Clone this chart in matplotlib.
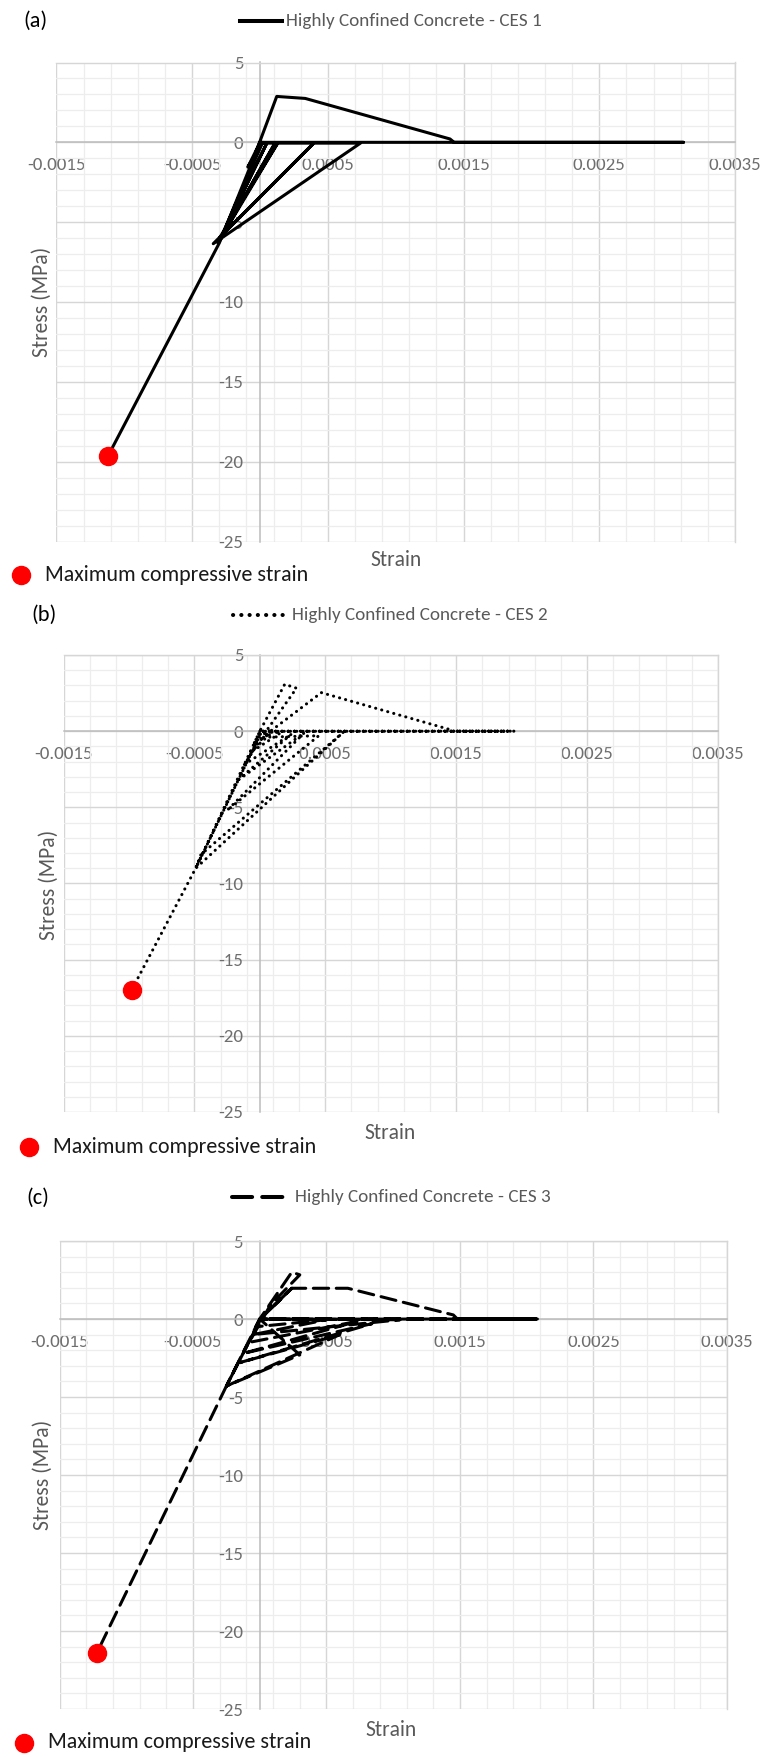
import numpy as np
import matplotlib
matplotlib.use("Agg")
import matplotlib.pyplot as plt
from matplotlib import font_manager
from matplotlib.lines import Line2D
from matplotlib.ticker import FormatStrFormatter

# stress-strain paths of the highly confined concrete fibre, one per section
strain_a = [0.0, -0.00009, 0.00002, -0.00029, 0.00005, -0.0003, 0.00011, -0.00031, 0.00013,
            -0.000295, 0.00039, -0.000345, 0.00074, 0.0, -0.00003, 0.000123, 0.000333,
            0.0014, 0.00143, 0.00312, 0.0, -0.0003, -0.000527, -0.00112]
stress_a = [0.0, -1.55, 0.0, -6.0, -0.05, -6.2, -0.05, -6.3, -0.05,
            -5.94, -0.1, -6.35, -0.05, -0.05, -0.6, 2.875, 2.75,
            0.21, 0.0, 0.0, 0.0, -6.3, -10.0, -19.64]

strain_b = [0.0, -0.00005, 0.0001, -0.00008, 0.00016, 0.0, 0.00019, 0.00028, 0.00004,
            -0.00012, 0.00024, -0.00018, 0.00034, -0.00025, 0.00045, 0.00002, 0.00047,
            0.00145, 0.00148, 0.00195, 0.00001, 0.0019, 0.0, -0.00049, 0.00001, -0.00049,
            0.00064, -0.00045, -0.00049, -0.00098]
stress_b = [0.0, -0.9, -0.02, -1.45, -0.1, 0.0, 3.08, 2.82, -0.1,
            -2.2, -0.2, -3.3, -0.1, -5.2, -0.3, -0.4, 2.53,
            0.11, 0.0, 0.0, -0.01, 0.0, 0.0, -9.0, -0.1, -9.0,
            -0.05, -8.1, -9.0, -17.0]

strain_c = [0.0, -0.00003, 0.0005, -0.00005, 0.00105, 0.0, 0.00024, 0.0003, 0.00008,
            -0.00008, 0.00073, -0.00012, 0.00084, -0.00015, 0.0006, -0.00025, 0.0003,
            0.0, 0.00024, 0.00001, 0.00024, 0.00066, 0.00145, 0.00148, 0.00208, 0.00001,
            0.00207, 0.0, -0.00025, 0.00001, -0.00025, -0.00122]
stress_c = [0.0, -0.5, -0.05, -1.0, -0.05, 0.0, 3.0, 2.83, 0.9,
            -1.5, -0.15, -2.2, -0.3, -2.8, -1.0, -4.3, -2.3,
            0.0, 1.97, 0.05, 1.97, 1.97, 0.26, 0.0, 0.0, -0.01,
            0.0, 0.0, -4.3, 0.05, -4.3, -21.4]

panel_tags = ["(a)", "(b)", "(c)"]
series_names = ["Highly Confined Concrete - CES 1",
                "Highly Confined Concrete - CES 2",
                "Highly Confined Concrete - CES 3"]
marker_name = "Maximum compressive strain"
x_title = "Strain"
y_title = "Stress (MPa)"

x_major = np.arange(-0.0015, 0.0036, 0.001)
x_minor = np.arange(-0.0015, 0.0036, 0.0002)
y_major = np.arange(-25, 6, 5)
y_minor = np.arange(-25, 6, 1)

W, H = 767, 1757

names = {f.name for f in font_manager.fontManager.ttflist}


def pick(*cands):
    for c in cands:
        if c in names:
            return c
    return "DejaVu Sans"


body_font = pick("Carlito", "Lato", "Open Sans")
narrow_font = pick("Liberation Sans Narrow", "Carlito", "Lato")

plt.rcParams["axes.unicode_minus"] = False
plt.rcParams["font.family"] = [body_font, "DejaVu Sans"]

GREY = "#595959"
TICK_GREY = "#6e6e6e"

fig = plt.figure(figsize=(W / 100, H / 100), dpi=100)
fig.patch.set_facecolor("white")


def fx(px):
    return px / W


def fy(py):
    return 1 - py / H


def panel(box, xs, ys, style, tag, name, layout):
    left, right, top, bottom = box
    ax = fig.add_axes([fx(left), fy(bottom), (right - left) / W, (bottom - top) / H])
    ax.set_xlim(-0.0015, 0.0035)
    ax.set_ylim(-25, 5)

    ax.set_xticks(x_major)
    ax.set_xticks(x_minor, minor=True)
    ax.set_yticks(y_major)
    ax.set_yticks(y_minor, minor=True)
    ax.xaxis.set_major_formatter(FormatStrFormatter("%g"))
    ax.yaxis.set_major_formatter(FormatStrFormatter("%g"))
    ax.grid(which="major", color="#d6d6d6", lw=1.0, zorder=0)
    ax.grid(which="minor", color="#ededed", lw=0.9, zorder=0)
    ax.set_axisbelow(True)

    # axes cross at the origin, Excel style
    ax.spines["left"].set_position(("data", 0))
    ax.spines["bottom"].set_position(("data", 0))
    for s in ("left", "bottom"):
        ax.spines[s].set_color("#bcbcbc")
        ax.spines[s].set_linewidth(1.1)
    for s in ("top", "right"):
        ax.spines[s].set_color("#d6d6d6")
        ax.spines[s].set_linewidth(1.0)
    ax.tick_params(which="both", length=0)
    ax.tick_params(axis="x", pad=10.5, labelsize=13.6, labelcolor=TICK_GREY)
    ax.tick_params(axis="y", pad=12, labelsize=13.6, labelcolor=TICK_GREY)

    ax.plot(xs, ys, color="black", lw=2.2, ls=style, solid_joinstyle="round",
            dash_capstyle="round" if style != "-" else "butt", zorder=3)
    i = int(np.argmin(xs))
    ax.plot(xs[i], ys[i], "o", color="#ff0000", ms=13, mec="#ff0000", zorder=4)

    # headers, titles and legends placed in figure pixels
    (tx, ty), (lx0, lx1, ly), (sx, sy), (yx, yy), (mx, my, mtx) = layout
    fig.text(fx(tx), fy(ty), tag, ha="center", va="center", fontsize=16, color="black")
    fig.add_artist(Line2D([fx(lx0), fx(lx1)], [fy(ly), fy(ly)], color="black",
                          lw=2.9, ls=style, transform=fig.transFigure,
                          dash_capstyle="round" if style != "-" else "butt"))
    fig.text(fx(lx1 + 4), fy(ly), name, ha="left", va="center", fontsize=13.8,
             color=GREY, family=[narrow_font, "DejaVu Sans"])
    fig.text(fx(sx), fy(sy), x_title, ha="center", va="center", fontsize=15.5, color=GREY)
    fig.text(fx(yx), fy(yy), y_title, ha="center", va="center", fontsize=15.5,
             color=GREY, rotation=90)
    fig.add_artist(Line2D([fx(mx)], [fy(my)], marker="o", color="#ff0000", ms=13,
                          transform=fig.transFigure))
    fig.text(fx(mtx), fy(my), marker_name, ha="left", va="center", fontsize=15.8,
             color="#1a1a1a")
    return ax


panel((56.5, 735, 62.5, 541.5), strain_a, stress_a, "-", panel_tags[0], series_names[0],
      ((35, 21), (240, 282, 20.7), (396, 560), (41.6, 302), (20.7, 575, 45)))
panel((63.5, 718, 655, 1112), strain_b, stress_b, (0, (0.05, 2.0)), panel_tags[1], series_names[1],
      ((44, 615), (233, 288, 615), (390, 1133), (49, 885), (29.4, 1147, 52.8)))
panel((59.5, 727, 1241, 1709), strain_c, stress_c, (0, (5, 2.5)), panel_tags[2], series_names[2],
      ((38.2, 1198), (232, 291, 1197), (391.4, 1730), (43, 1474.6), (23.5, 1742.5, 47.5)))

fig.savefig("out.png", dpi=100, facecolor="white")
